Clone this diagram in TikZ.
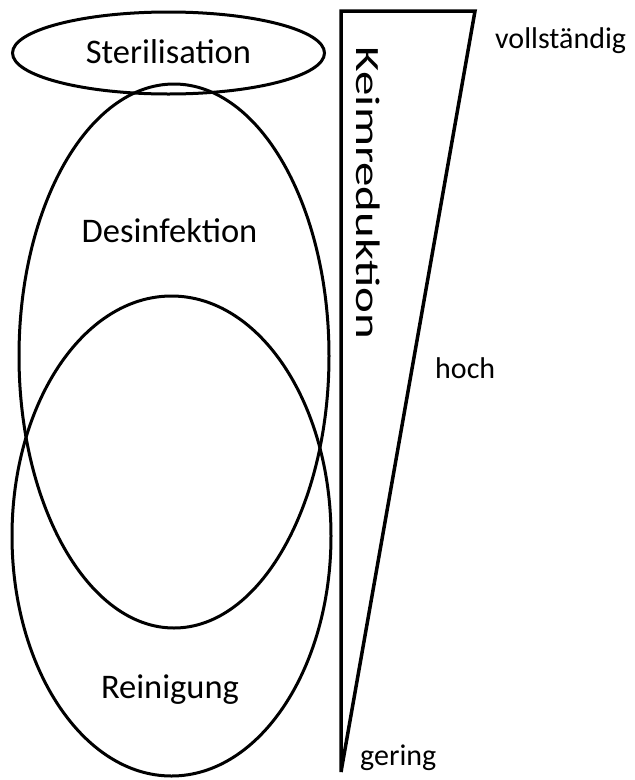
\documentclass[tikz,border=0pt]{standalone}
\usepackage{fontspec}
\setmainfont{Carlito}
\usetikzlibrary{shapes.geometric}
\begin{document}
\begin{tikzpicture}[x=1pt,y=-1pt,
  ring/.style={ellipse, draw=black, line width=3pt, inner sep=0pt, outer sep=0pt},
  mainlabel/.style={inner sep=0pt, anchor=base, font=\fontsize{34.5}{38}\selectfont},
  smalllabel/.style={inner sep=0pt, anchor=base west, font=\fontsize{30}{34}\selectfont},
  wedge/.style={draw=black, line width=3.5pt, line join=miter}]
\useasboundingbox (0,0) rectangle (635,780);
% ellipses
\node[ring, minimum width=319pt, minimum height=480pt] (rein) at (171.5,536) {};
\node[ring, minimum width=310pt, minimum height=544pt] (des) at (174,356) {};
\node[ring, minimum width=312pt, minimum height=82pt] (ster) at (168.5,53) {};
% labels
\node[mainlabel] (tster) at (168.5,63) {Sterilisation};
\node[mainlabel] (tdes) at (169.5,242) {Desinfektion};
\node[mainlabel] (trein) at (170,698) {Reinigung};
% wedge
\coordinate (tl) at (341,11);
\coordinate (tr) at (475,11);
\coordinate (tb) at (341,772);
\draw[wedge] (tl) -- (tr) -- (tb) -- cycle;
\node[inner sep=0pt, anchor=center, rotate=-90, font=\fontsize{34}{38}\selectfont] (keim) at (368.5,193) {\scalebox{1.44}[1]{Keimreduktion}};
% scale labels
\node[smalllabel] (voll) at (495,48) {vollständig};
\node[smalllabel] (hoch) at (435,378) {hoch};
\node[smalllabel] (ger) at (360,765) {gering};
\end{tikzpicture}
\end{document}
